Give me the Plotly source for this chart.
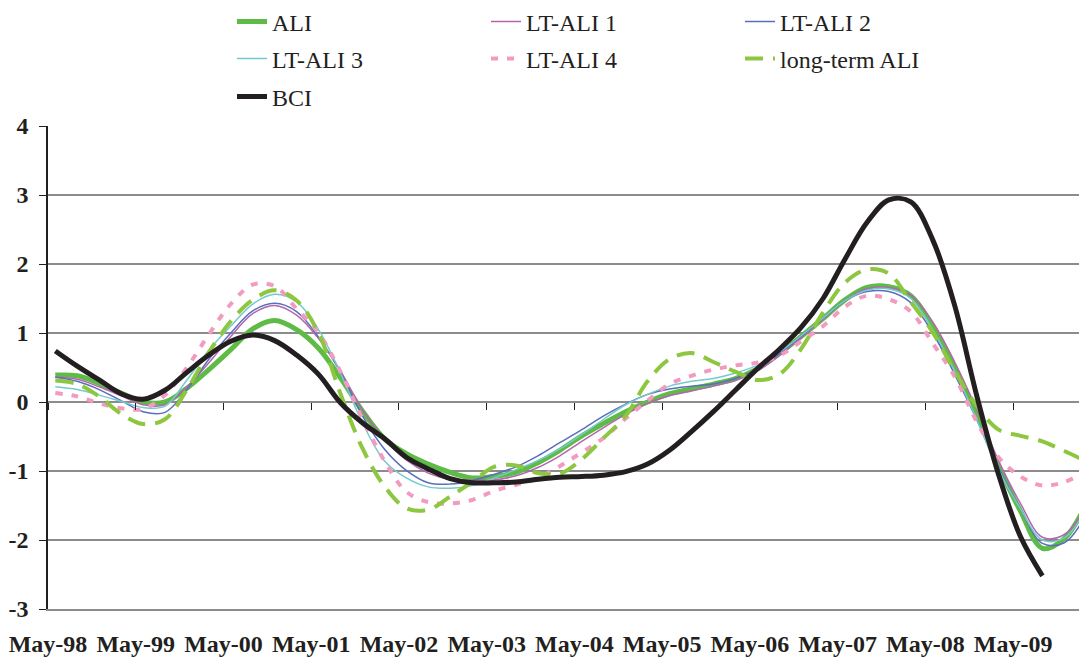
import pandas as pd
import plotly.graph_objects as go

# Quarterly observation dates (categories)
DATES = pd.date_range("1998-06-01", "2010-03-01", freq="3MS")

TICK_LABELS = ["May-98", "May-99", "May-00", "May-01", "May-02", "May-03",
               "May-04", "May-05", "May-06", "May-07", "May-08", "May-09"]
Y_TICKS = [-3, -2, -1, 0, 1, 2, 3, 4]

ALI = [0.39, 0.38, 0.27, 0.13, 0.00, 0.00, 0.20, 0.47, 0.76, 1.06, 1.18, 1.05,
       0.78, 0.35, -0.13, -0.53, -0.75, -0.90, -1.02, -1.10, -1.08, -1.02, -0.88, -0.70,
       -0.49, -0.31, -0.14, 0.00, 0.12, 0.19, 0.26, 0.34, 0.48, 0.70, 0.95, 1.21,
       1.48, 1.66, 1.67, 1.54, 1.10, 0.50, -0.18, -0.93, -1.58, -2.12, -1.98, -1.48]

LT_ALI_1 = [0.36, 0.33, 0.22, 0.09, -0.04, -0.04, 0.22, 0.57, 0.95, 1.28, 1.40, 1.26,
            0.92, 0.45, -0.11, -0.53, -0.84, -1.03, -1.12, -1.13, -1.13, -1.07, -0.95, -0.78,
            -0.57, -0.37, -0.18, -0.02, 0.09, 0.16, 0.23, 0.31, 0.45, 0.67, 0.93, 1.20,
            1.47, 1.64, 1.66, 1.55, 1.16, 0.58, -0.10, -0.85, -1.47, -1.96, -1.92, -1.52]

LT_ALI_2 = [0.36, 0.30, 0.18, 0.02, -0.14, -0.15, 0.18, 0.62, 1.00, 1.32, 1.43, 1.31,
            0.94, 0.43, -0.20, -0.68, -0.99, -1.17, -1.19, -1.14, -1.05, -0.94, -0.78, -0.59,
            -0.40, -0.20, -0.03, 0.11, 0.19, 0.23, 0.26, 0.34, 0.48, 0.70, 0.95, 1.22,
            1.47, 1.60, 1.60, 1.44, 1.00, 0.40, -0.25, -0.95, -1.55, -2.05, -2.04, -1.63]

LT_ALI_3 = [0.22, 0.18, 0.10, 0.01, -0.08, -0.06, 0.32, 0.75, 1.10, 1.42, 1.56, 1.45,
            1.05, 0.42, -0.30, -0.85, -1.10, -1.23, -1.25, -1.21, -1.10, -0.98, -0.85, -0.68,
            -0.47, -0.25, -0.04, 0.11, 0.23, 0.30, 0.34, 0.42, 0.53, 0.72, 0.96, 1.22,
            1.47, 1.62, 1.64, 1.50, 1.05, 0.45, -0.25, -0.98, -1.55, -2.00, -1.97, -1.55]

LT_ALI_4 = [0.13, 0.08, -0.02, -0.09, -0.10, 0.10, 0.50, 0.98, 1.42, 1.70, 1.68, 1.35,
            1.00, 0.44, -0.24, -0.85, -1.30, -1.45, -1.47, -1.42, -1.29, -1.20, -1.10, -0.93,
            -0.73, -0.52, -0.24, 0.02, 0.26, 0.38, 0.47, 0.53, 0.57, 0.67, 0.88, 1.10,
            1.38, 1.54, 1.49, 1.31, 0.85, 0.37, -0.28, -0.80, -1.08, -1.21, -1.16, -1.00]

LONG_TERM_ALI = [0.31, 0.26, 0.08, -0.17, -0.32, -0.25, 0.18, 0.72, 1.17, 1.48, 1.62, 1.47,
                 1.00, 0.12, -0.67, -1.22, -1.54, -1.56, -1.37, -1.16, -0.94, -0.92, -1.03, -1.04,
                 -0.83, -0.52, -0.20, 0.30, 0.62, 0.71, 0.58, 0.44, 0.32, 0.40, 0.77, 1.30,
                 1.73, 1.92, 1.86, 1.45, 1.01, 0.45, -0.05, -0.40, -0.49, -0.57, -0.71, -0.86]

BCI = [0.74, 0.52, 0.32, 0.12, 0.04, 0.17, 0.43, 0.68, 0.88, 0.97, 0.89, 0.68,
       0.40, -0.01, -0.30, -0.53, -0.80, -0.97, -1.11, -1.17, -1.17, -1.16, -1.12, -1.09,
       -1.08, -1.06, -1.01, -0.90, -0.70, -0.43, -0.14, 0.17, 0.48, 0.76, 1.08, 1.50,
       2.07, 2.60, 2.93, 2.90, 2.35, 1.40, 0.10, -1.05, -1.95, -2.52, None, None]

# month index relative to May-98 (axis origin)
x = [(d.year - 1998) * 12 + (d.month - 5) for d in DATES]
tick_vals = [12 * i for i in range(len(TICK_LABELS))]

FONT = "Liberation Serif"

series = [
    ("ALI", ALI, dict(color="#5DBB46", width=5), "legend"),
    ("LT-ALI 1", LT_ALI_1, dict(color="#B565AE", width=1.5), "legend"),
    ("LT-ALI 2", LT_ALI_2, dict(color="#5B6DBD", width=1.5), "legend"),
    ("LT-ALI 3", LT_ALI_3, dict(color="#74CACC", width=1.5), "legend2"),
    ("LT-ALI 4", LT_ALI_4, dict(color="#F39AC1", width=4, dash="7px,9px"), "legend2"),
    ("long-term ALI", LONG_TERM_ALI, dict(color="#8DC63F", width=4, dash="18px,10px"), "legend2"),
    ("BCI", BCI, dict(color="#231F20", width=5), "legend3"),
]

fig = go.Figure()
for name, vals, line, lg in series:
    fig.add_trace(go.Scatter(
        x=x, y=vals, name=name, mode="lines",
        line=dict(shape="spline", smoothing=1.0, **line),
        legend=lg, connectgaps=False,
    ))

# helper axis carrying the tick marks on the zero line
fig.add_trace(go.Scatter(x=[], y=[], xaxis="x2", showlegend=False, hoverinfo="skip"))

legend_common = dict(
    orientation="h", xanchor="left", yanchor="middle", x=0.1771,
    font=dict(family=FONT, size=24, color="#231F20"),
    entrywidth=209, entrywidthmode="pixels",
    bgcolor="rgba(0,0,0,0)", borderwidth=0, traceorder="normal",
    itemwidth=30,
)

# the page body adds an ~8px offset; margins compensate for it
fig.update_layout(
    width=1087, height=657,
    margin=dict(l=40, r=8, t=118, b=56, autoexpand=False),
    plot_bgcolor="white", paper_bgcolor="white",
    font=dict(family=FONT, color="#231F20"),
    showlegend=True,
    legend=dict(y=1.2153, **legend_common),
    legend2=dict(y=1.1387, **legend_common),
    legend3=dict(y=1.060, **legend_common),
    xaxis=dict(
        range=[0, 142.1], tickmode="array", tickvals=tick_vals, ticktext=TICK_LABELS,
        showgrid=False, zeroline=False, showline=True, linecolor="#8c8c8c", linewidth=1.5,
        ticks="", ticklabelstandoff=12, automargin=False,
        tickfont=dict(family=FONT, size=24, color="#231F20", weight="bold"),
    ),
    xaxis2=dict(
        overlaying="x", matches="x", anchor="free", position=3 / 7, side="bottom",
        tickmode="array", tickvals=tick_vals, ticks="outside", ticklen=7,
        tickcolor="#231F20", tickwidth=1, showticklabels=False,
        showgrid=False, zeroline=False, showline=False, automargin=False,
    ),
    yaxis=dict(
        range=[-3, 4], tickmode="array", tickvals=Y_TICKS,
        ticktext=[str(v) for v in Y_TICKS],
        showgrid=True, gridcolor="#8c8c8c", gridwidth=1.5, zeroline=False,
        showline=True, linecolor="#231F20", linewidth=1.5,
        ticks="outside", ticklen=7, tickcolor="#231F20", ticklabelstandoff=6,
        automargin=False,
        tickfont=dict(family=FONT, size=24, color="#231F20", weight="bold"),
    ),
)

fig.write_html("out.html")
